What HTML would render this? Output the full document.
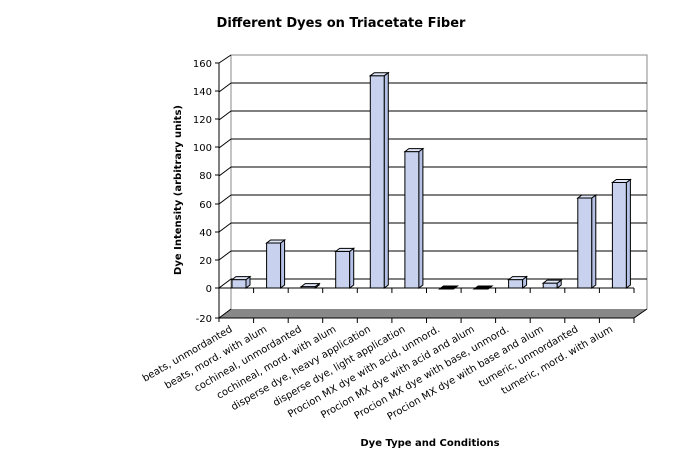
<!DOCTYPE html>
<html><head><style>body{margin:0;background:#fff}svg{display:block}text{font-family:"DejaVu Sans","Liberation Sans",sans-serif}</style></head><body>
<svg width="683" height="467" viewBox="0 0 683 467" xmlns="http://www.w3.org/2000/svg">
<text x="341" y="27" font-size="13" font-weight="bold" text-anchor="middle">Different Dyes on Triacetate Fiber</text>
<polyline points="231,309 231,55 647,55 647,309" fill="none" stroke="#888" stroke-width="1"/>
<polygon points="219,318 634,318 647,309 231,309" fill="#888"/>
<line x1="219" y1="318" x2="231" y2="309" stroke="#000"/>
<line x1="634" y1="318" x2="647" y2="309" stroke="#000"/>
<g stroke="#000" stroke-width="1" fill="none">
<line x1="231" y1="83" x2="647" y2="83"/><line x1="219" y1="92" x2="231" y2="83"/>
<line x1="231" y1="111" x2="647" y2="111"/><line x1="219" y1="120" x2="231" y2="111"/>
<line x1="231" y1="139" x2="647" y2="139"/><line x1="219" y1="148" x2="231" y2="139"/>
<line x1="231" y1="167" x2="647" y2="167"/><line x1="219" y1="176" x2="231" y2="167"/>
<line x1="231" y1="195" x2="647" y2="195"/><line x1="219" y1="204" x2="231" y2="195"/>
<line x1="231" y1="223" x2="647" y2="223"/><line x1="219" y1="232" x2="231" y2="223"/>
<line x1="231" y1="251" x2="647" y2="251"/><line x1="219" y1="260" x2="231" y2="251"/>
<line x1="231" y1="279" x2="647" y2="279"/><line x1="219" y1="288" x2="231" y2="279"/>
<line x1="219" y1="63" x2="231" y2="55"/>
<line x1="219" y1="63" x2="219" y2="322"/>
<line x1="219" y1="288" x2="634" y2="288"/>
<line x1="219" y1="318" x2="634" y2="318"/>
<line x1="215" y1="63" x2="219" y2="63"/><line x1="215" y1="91" x2="219" y2="91"/><line x1="215" y1="119" x2="219" y2="119"/><line x1="215" y1="147" x2="219" y2="147"/><line x1="215" y1="175" x2="219" y2="175"/><line x1="215" y1="204" x2="219" y2="204"/><line x1="215" y1="232" x2="219" y2="232"/><line x1="215" y1="260" x2="219" y2="260"/><line x1="215" y1="288" x2="219" y2="288"/><line x1="215" y1="318" x2="219" y2="318"/>
<path d="M253.6 288v5M288.2 288v5M322.7 288v5M357.3 288v5M391.9 288v5M426.5 288v5M461.1 288v5M495.6 288v5M530.2 288v5M564.8 288v5M599.4 288v5M634 288v5
M253.6 318v5M288.2 318v5M322.7 318v5M357.3 318v5M391.9 318v5M426.5 318v5M461.1 318v5M495.6 318v5M530.2 318v5M564.8 318v5M599.4 318v5M634 318v5"/>
</g>
<g font-size="10" text-anchor="end">
<text x="212" y="67">160</text><text x="212" y="95">140</text><text x="212" y="123">120</text><text x="212" y="151">100</text><text x="212" y="179">80</text><text x="212" y="208">60</text><text x="212" y="236">40</text><text x="212" y="264">20</text><text x="212" y="292">0</text><text x="212" y="322">-20</text>
</g>
<g stroke="#000">
<g transform="translate(232,0)"><rect x="0" y="279.6" width="14" height="8.4" fill="#c8d2ee"/><polygon points="14,279.6 18,276.6 18,285 14,288" fill="#b4c0e4"/><polygon points="0,279.6 4,276.6 18,276.6 14,279.6" fill="#dfe6f8"/></g>
<g transform="translate(266.6,0)"><rect x="0" y="243" width="14" height="45" fill="#c8d2ee"/><polygon points="14,243 18,240 18,285 14,288" fill="#b4c0e4"/><polygon points="0,243 4,240 18,240 14,243" fill="#dfe6f8"/></g>
<g transform="translate(301.2,0)"><rect x="0" y="286.6" width="14" height="1.4" fill="#c8d2ee"/><polygon points="14,286.6 18,283.6 18,285 14,288" fill="#b4c0e4"/><polygon points="0,286.6 4,283.6 18,283.6 14,286.6" fill="#dfe6f8"/></g>
<g transform="translate(335.7,0)"><rect x="0" y="251.4" width="14" height="36.6" fill="#c8d2ee"/><polygon points="14,251.4 18,248.4 18,285 14,288" fill="#b4c0e4"/><polygon points="0,251.4 4,248.4 18,248.4 14,251.4" fill="#dfe6f8"/></g>
<g transform="translate(370.3,0)"><rect x="0" y="75.7" width="14" height="212.3" fill="#c8d2ee"/><polygon points="14,75.7 18,72.7 18,285 14,288" fill="#b4c0e4"/><polygon points="0,75.7 4,72.7 18,72.7 14,75.7" fill="#dfe6f8"/></g>
<g transform="translate(404.9,0)"><rect x="0" y="151.6" width="14" height="136.4" fill="#c8d2ee"/><polygon points="14,151.6 18,148.6 18,285 14,288" fill="#b4c0e4"/><polygon points="0,151.6 4,148.6 18,148.6 14,151.6" fill="#dfe6f8"/></g>
<polygon points="439.5,289 453.5,289 457.5,286 443.5,286" fill="#000"/>
<polygon points="474.1,289 488.1,289 492.1,286 478.1,286" fill="#000"/>
<g transform="translate(508.6,0)"><rect x="0" y="279.6" width="14" height="8.4" fill="#c8d2ee"/><polygon points="14,279.6 18,276.6 18,285 14,288" fill="#b4c0e4"/><polygon points="0,279.6 4,276.6 18,276.6 14,279.6" fill="#dfe6f8"/></g>
<g transform="translate(543.2,0)"><rect x="0" y="283.1" width="14" height="4.9" fill="#c8d2ee"/><polygon points="14,283.1 18,280.1 18,285 14,288" fill="#b4c0e4"/><polygon points="0,283.1 4,280.1 18,280.1 14,283.1" fill="#dfe6f8"/></g>
<g transform="translate(577.8,0)"><rect x="0" y="198" width="14" height="90" fill="#c8d2ee"/><polygon points="14,198 18,195 18,285 14,288" fill="#b4c0e4"/><polygon points="0,198 4,195 18,195 14,198" fill="#dfe6f8"/></g>
<g transform="translate(612.4,0)"><rect x="0" y="182.5" width="14" height="105.5" fill="#c8d2ee"/><polygon points="14,182.5 18,179.5 18,285 14,288" fill="#b4c0e4"/><polygon points="0,182.5 4,179.5 18,179.5 14,182.5" fill="#dfe6f8"/></g>
</g>
<g font-size="10" text-anchor="end">
<text transform="translate(233,331) rotate(-30)">beats, unmordanted</text>
<text transform="translate(267.6,331) rotate(-30)">beats, mord. with alum</text>
<text transform="translate(302.2,331) rotate(-30)">cochineal, unmordanted</text>
<text transform="translate(336.7,331) rotate(-30)">cochineal, mord. with alum</text>
<text transform="translate(371.3,331) rotate(-30)">disperse dye, heavy application</text>
<text transform="translate(405.9,331) rotate(-30)">disperse dye, light application</text>
<text transform="translate(440.5,331) rotate(-30)">Procion MX dye with acid, unmord.</text>
<text transform="translate(475.1,331) rotate(-30)">Procion MX dye with acid and alum</text>
<text transform="translate(509.6,331) rotate(-30)">Procion MX dye with base, unmord.</text>
<text transform="translate(544.2,331) rotate(-30)">Procion MX dye with base and alum</text>
<text transform="translate(578.8,331) rotate(-30)">tumeric, unmordanted</text>
<text transform="translate(613.4,331) rotate(-30)">tumeric, mord. with alum</text>
</g>
<text transform="translate(181,190) rotate(-90)" font-size="10" font-weight="bold" text-anchor="middle">Dye Intensity (arbitrary units)</text>
<text x="430" y="446" font-size="10" font-weight="bold" text-anchor="middle">Dye Type and Conditions</text>
</svg>
</body></html>
